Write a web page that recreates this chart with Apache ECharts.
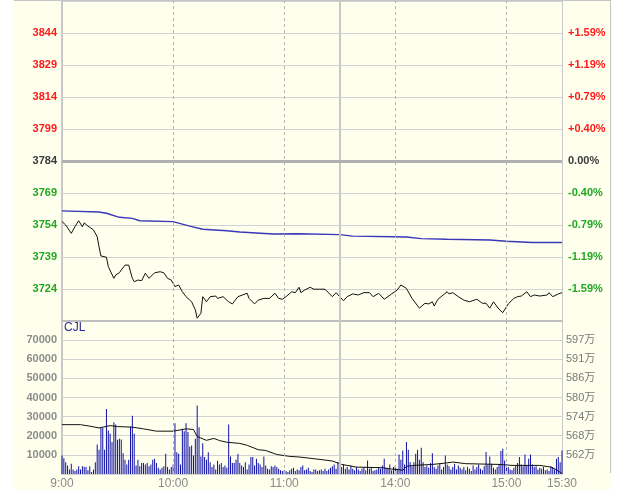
<!DOCTYPE html>
<html><head><meta charset="utf-8">
<script src="https://cdn.jsdelivr.net/npm/echarts@6.0.0/dist/echarts.min.js"></script>
<style>
html,body{margin:0;padding:0;background:#fff;}
#wrap{position:relative;width:627px;height:490px;overflow:hidden;}
#bg{position:absolute;left:14px;top:0;width:597px;height:490px;background:#FFFFEE;}
#c{position:absolute;left:0;top:0;width:627px;height:490px;}
</style>
</head><body>
<div id="wrap"><div id="bg"></div><div id="c"></div></div>
<script>
const prevClose = 3784;
const priceTicks = [3724,3739,3754,3769,3784,3799,3814,3829,3844];
const pctLabels = ['-1.59%','-1.19%','-0.79%','-0.40%','0.00%','+0.40%','+0.79%','+1.19%','+1.59%'];
const volTicks = [10000,20000,30000,40000,50000,60000,70000];
const volRightLabels = ['562万','568万','574万','580万','586万','591万','597万'];
const timeTickMinutes = [0,60,120,180,240,270];
const timeTickLabels = ['9:00','10:00','11:00','14:00','15:00','15:30'];
const dashedMinutes = [60,120,180,240];
const breakMinute = 150;

const priceMinutes = [0,2,3,5,7,9,11,12,14,17,19,20,21,24,25,28,29,31,32,34,36,38,39,41,43,45,47,48,50,53,55,57,59,61,63,65,67,70,71,72,73,75,76,78,80,83,84,87,90,92,95,100,101,104,106,109,110,112,115,117,119,121,124,126,128,129,131,134,136,139,142,146,148,152,154,157,160,163,166,168,171,174,178,181,183,186,189,193,196,198,200,201,203,208,209,211,214,217,220,224,227,229,231,233,236,238,241,244,246,248,251,253,255,258,262,263,265,268,270];
const priceValues = [3755.6,3754,3753.2,3750.1,3753.2,3756,3753.2,3755,3753.5,3751.7,3748.5,3743.8,3739.5,3738.9,3734.5,3729,3730.6,3731.6,3732.9,3735.2,3735.2,3729,3727.4,3728.2,3727.9,3731.4,3729,3729.8,3731.6,3732.1,3731.6,3729,3728.2,3725.1,3725.9,3722.7,3720.4,3718,3717.3,3714.2,3710.3,3712.6,3720.4,3718,3720.4,3720.7,3719.6,3720.4,3718,3717,3720.4,3722,3719.6,3717,3718.8,3719.6,3720.4,3719.6,3722,3719.6,3719.2,3720.4,3722.7,3722.3,3724.8,3722.3,3723.5,3724.8,3723.9,3723.9,3723.9,3720.4,3722.3,3718.5,3720.4,3721.7,3721.2,3722.3,3722.3,3720.4,3722,3719.2,3721.7,3723.5,3725.9,3724.3,3719.6,3715,3717.3,3717,3718,3716,3719.2,3722.7,3721.7,3722.3,3720.4,3718.8,3718,3719.2,3717.3,3717.3,3715,3718,3714.5,3712.9,3717,3719.6,3720.4,3720.7,3722.7,3720.4,3721.2,3720.7,3721.2,3722.3,3720.4,3721.7,3722.3];

const avgMinutes = [0,20,24,31,38,42,60,69,76,89,96,114,128,150,157,179,186,194,208,231,240,254,270];
const avgValues = [3760.6,3760.1,3759.5,3757.6,3757.1,3756,3755.6,3753.5,3752,3751.3,3750.7,3749.8,3749.9,3749.5,3748.8,3748.5,3748.4,3747.6,3747.3,3747,3746.4,3745.8,3745.8];

const volume = [
9700,8300,6200,4500,2300,5400,2300,1600,2300,4000,
2300,4000,3800,3600,1900,4000,1000,2300,6200,15400,
12700,24100,24100,12700,34000,22700,21000,16700,27100,25900,
17900,18400,18000,10900,7500,5000,7500,24800,30500,21000,
4500,7500,4000,5700,5700,5000,5700,4000,5000,7500,
8000,5700,3300,2300,3300,4000,10600,3600,2300,3600,
5000,26500,11400,10600,5000,23600,22400,26500,21900,14400,
14900,9700,18400,35800,24500,9200,16100,8900,7500,11400,
6200,3600,5000,2300,6900,5000,5700,3600,4500,3300,
25900,9200,5700,5700,7500,10400,5700,4500,3600,6200,
2300,5000,8900,8900,4500,8000,5700,5000,3600,9200,
4500,2800,2300,4000,3600,4500,3600,2800,1900,1600,
1900,1600,1000,1900,2800,3300,1600,2300,1900,3600,
4500,1900,2300,3300,1600,1000,2300,2300,1600,1900,
2300,1600,2800,1600,2300,3300,4000,5000,2800,6200,
8000,3600,5000,2800,3600,2300,4500,2800,1900,3600,
2300,1600,2800,3600,1900,7100,2800,3600,1600,1900,
2300,3600,2800,4500,8000,3300,2800,5000,1900,3600,
4500,2800,10200,7500,12300,5000,16700,12700,6200,4000,
6200,10600,12700,7500,13700,6200,3600,4500,3300,5700,
10900,3600,2800,4500,5400,2300,3600,9700,5000,4000,
2300,3600,5400,2300,4500,3300,2300,3600,1900,3600,
2800,1600,4500,2300,3600,5000,2800,1900,4000,11500,
5000,9200,5400,3300,2300,3600,5000,12000,13200,7100,
5000,3600,2300,1900,3300,4500,5700,8900,5000,4000,
10200,4500,8000,10200,5000,3600,4000,2300,3300,2800,
3600,1900,2300,1600,4000,3600,2300,8000,8900,6200,
12300];

const volLineMinutes = [0,10,15,20,26,30,38,44,51,60,67,71,73,78,82,85,89,96,100,106,110,116,123,128,136,146,151,159,173,178,182,184,186,190,200,207,211,218,236,243,258,264,267,270];
const volLineValues = [25800,25800,25000,24100,25300,24800,24500,23600,22400,22400,23600,23300,19600,17600,18600,17500,16600,16000,15000,12700,12300,10200,9200,8900,8000,6800,5000,3600,3300,2600,2250,1900,4000,4500,5000,5700,6250,5400,5000,4500,4500,3600,2250,200];

const FONT = '"Liberation Sans", Arial, "Noto Sans CJK SC", sans-serif';
const zip = (a,b) => a.map((x,i)=>[x,b[i]]);

function vLines(){
  const d = dashedMinutes.map(m => ({xAxis:m, lineStyle:{color:'#B4B4B4', type:[3,3], width:1}}));
  d.push({xAxis:breakMinute, lineStyle:{color:'#C8C8C8', type:'solid', width:2}});
  return d;
}

const chart = echarts.init(document.getElementById('c'), null, {renderer:'canvas'});
chart.setOption({
  animation:false,
  backgroundColor:'transparent',
  textStyle:{fontFamily:FONT},
  grid:[
    {left:62, right:65, top:1, height:320},
    {left:62, right:65, top:321, height:153}
  ],
  xAxis:[
    {type:'value', gridIndex:0, min:0, max:270, interval:30,
     axisLine:{show:true, onZero:false, lineStyle:{color:'#BEBEBE', width:2}},
     axisTick:{show:false}, axisLabel:{show:false}, splitLine:{show:false}},
    {type:'value', gridIndex:1, min:0, max:270, interval:30,
     axisLine:{show:false}, axisTick:{show:false}, splitLine:{show:false},
     axisLabel:{show:true, margin:4, fontSize:12, color:'#8A8A8A', fontFamily:FONT,
       formatter: v => { const i = timeTickMinutes.indexOf(Math.round(v)); return i>=0 ? timeTickLabels[i] : ''; }}}
  ],
  yAxis:[
    {type:'value', gridIndex:0, position:'left', min:3709, max:3859, interval:15,
     axisLine:{show:true, lineStyle:{color:'#C8C8C8', width:2}}, axisTick:{show:false},
     splitLine:{show:true, lineStyle:{color:'#D2D2D2', width:1}},
     axisLabel:{margin:5, fontSize:11, fontWeight:'bold', fontFamily:FONT,
       formatter: v => priceTicks.indexOf(Math.round(v))>=0 ? String(Math.round(v)) : '',
       color: v => v > prevClose ? '#FF1A1A' : (v < prevClose ? '#1FA81F' : '#3A3A3A')}},
    {type:'value', gridIndex:0, position:'right', min:3709, max:3859, interval:15,
     axisLine:{show:true, lineStyle:{color:'#C8C8C8', width:1}}, axisTick:{show:false},
     splitLine:{show:false},
     axisLabel:{margin:6, fontSize:11, fontWeight:'bold', fontFamily:FONT,
       formatter: v => { const i = priceTicks.indexOf(Math.round(v)); return i>=0 ? pctLabels[i] : ''; },
       color: v => v > prevClose ? '#FF1A1A' : (v < prevClose ? '#1FA81F' : '#3A3A3A')}},
    {type:'value', gridIndex:1, position:'left', min:0, max:80000, interval:10000,
     axisLine:{show:true, lineStyle:{color:'#C8C8C8', width:2}}, axisTick:{show:false},
     splitLine:{show:true, lineStyle:{color:'#D2D2D2', width:1}},
     axisLabel:{margin:5, fontSize:11, fontWeight:'bold', color:'#8C8C8C', fontFamily:FONT,
       formatter: v => volTicks.indexOf(Math.round(v))>=0 ? String(Math.round(v)) : ''}},
    {type:'value', gridIndex:1, position:'right', min:0, max:80000, interval:10000,
     axisLine:{show:true, lineStyle:{color:'#C8C8C8', width:1}}, axisTick:{show:false},
     splitLine:{show:false},
     axisLabel:{margin:4, fontSize:11, color:'#7A7A7A', fontFamily:FONT,
       formatter: v => { const i = volTicks.indexOf(Math.round(v)); return i>=0 ? volRightLabels[i] : ''; }}}
  ],
  graphic:[
    {type:'line', shape:{x1:14, y1:0.5, x2:611, y2:0.5}, style:{stroke:'#C4C4C4', lineWidth:1}, silent:true},
    {type:'line', shape:{x1:610.5, y1:0, x2:610.5, y2:473}, style:{stroke:'#C4C4C4', lineWidth:1}, silent:true},
    {type:'text', left:64, top:322, style:{text:'CJL', fill:'#2A2AA0', font:'12px '+FONT}, silent:true}
  ],
  series:[
    {type:'line', name:'avg', xAxisIndex:0, yAxisIndex:0, data:zip(avgMinutes, avgValues),
     showSymbol:false, symbol:'none', lineStyle:{color:'#3838B8', width:1.4}, z:3,
     markLine:{silent:true, symbol:['none','none'], label:{show:false}, animation:false,
       data: vLines().concat([{yAxis:prevClose, lineStyle:{color:'#B0B0B0', width:3, type:'solid'}}])}},
    {type:'line', name:'price', xAxisIndex:0, yAxisIndex:0, data:zip(priceMinutes, priceValues),
     showSymbol:false, symbol:'none', lineStyle:{color:'#111111', width:1}, z:4},
    {type:'bar', name:'vol', xAxisIndex:1, yAxisIndex:2, data:volume.map((v,i)=>[i,v]),
     barWidth:1, itemStyle:{color:'#1010A8'}, z:3,
     markLine:{silent:true, symbol:['none','none'], label:{show:false}, animation:false, data: vLines()}},
    {type:'line', name:'volline', xAxisIndex:1, yAxisIndex:2, data:zip(volLineMinutes, volLineValues),
     showSymbol:false, symbol:'none', lineStyle:{color:'#111111', width:1}, z:4}
  ]
});
</script>
</body></html>
